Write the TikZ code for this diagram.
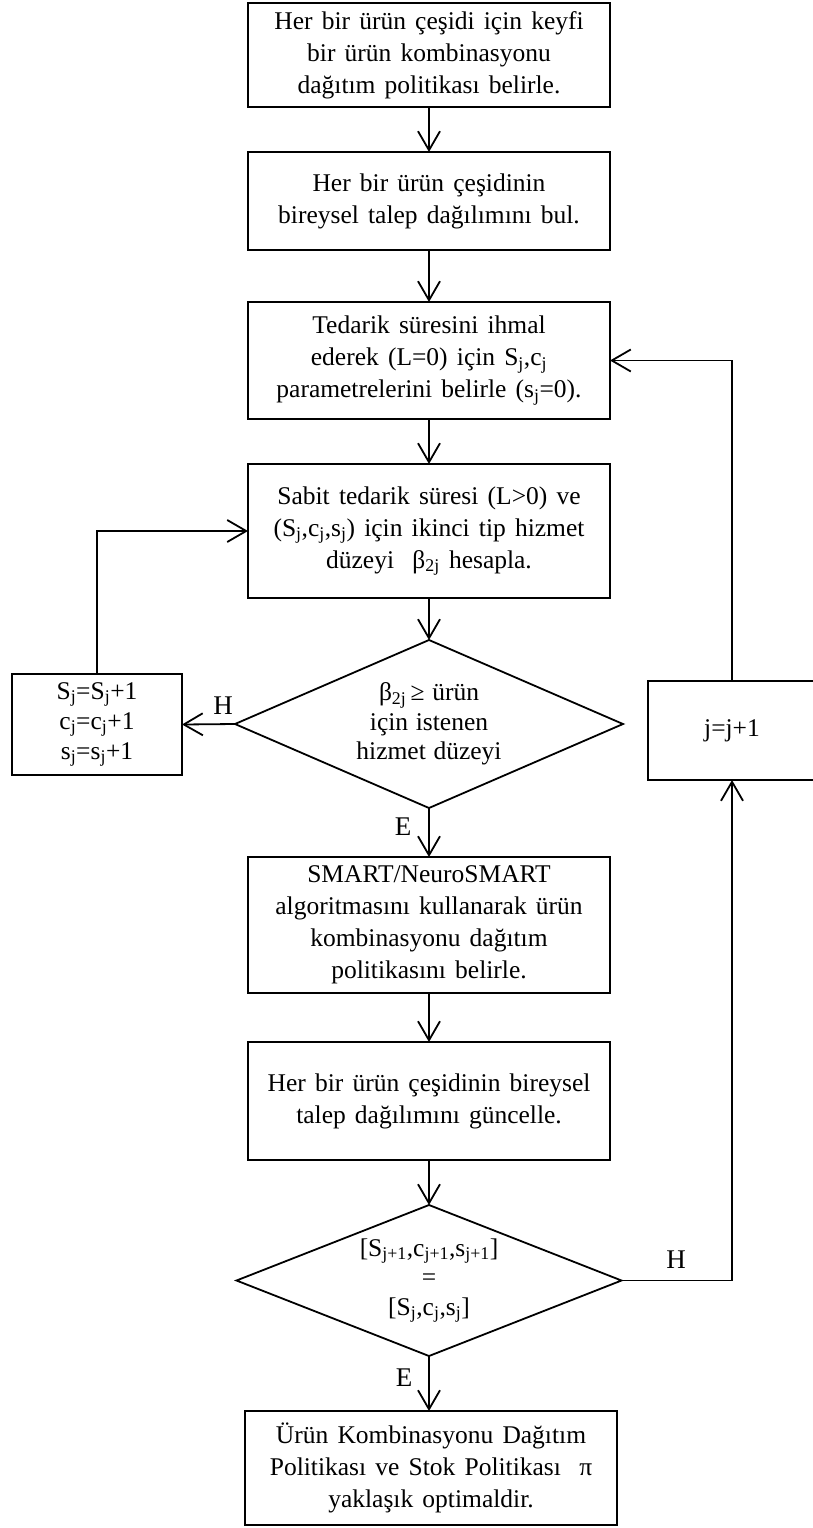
\documentclass[tikz,border=0pt]{standalone}
\usepackage{fontspec}
\setmainfont{Liberation Serif}
\usetikzlibrary{shapes.geometric,arrows.meta}
\newcommand\boxfont{\fontsize{25.5}{32}\selectfont\spaceskip=0.36em plus 0.1em minus 0.05em\relax}
\newcommand\decfont{\fontsize{25.5}{29.5}\selectfont\spaceskip=0.3em plus 0.1em minus 0.05em\relax}
\begin{document}
\begin{tikzpicture}[x=1pt,y=-1pt,
  every node/.style={inner sep=0pt, outer sep=0pt},
  box/.style={draw, line width=1.8pt, minimum width=362pt, align=center,
    font=\boxfont},
  smallbox/.style={draw, line width=1.8pt, align=center,
    font=\fontsize{25.5}{30}\selectfont},
  decision/.style={draw, line width=1.8pt, shape=diamond, aspect=2.4, align=center,
    font=\decfont},
  lbl/.style={font=\fontsize{27}{30}\selectfont},
  arr/.style={line width=1.8pt, -{Straight Barb[length=19pt,width=22pt,line width=1.8pt]}}
]
\useasboundingbox (0,0) rectangle (812,1528);

\node[box, minimum height=104pt] (b1) at (429,55)
  {Her bir ürün çeşidi için keyfi\\bir ürün kombinasyonu\\dağıtım politikası belirle.};
\node[box, minimum height=98pt] (b2) at (429,201)
  {Her bir ürün çeşidinin\\bireysel talep dağılımını bul.};
\node[box, minimum height=117pt] (b3) at (429,360.5)
  {Tedarik süresini ihmal\\ederek (L=0) için S\textsubscript{j},c\textsubscript{j}\\parametrelerini belirle (s\textsubscript{j}=0).};
\node[box, minimum height=134pt] (b4) at (429,531)
  {Sabit tedarik süresi (L>0) ve\\(S\textsubscript{j},c\textsubscript{j},s\textsubscript{j}) için ikinci tip hizmet\\düzeyi~ β\textsubscript{2j} hesapla.};
\node[decision, minimum width=388pt, minimum height=168pt] (d1) at (429,724)
  {β\textsubscript{2j}\,≥ ürün\\için istenen\\hizmet düzeyi};
\node[smallbox, minimum width=170pt, minimum height=101pt] (lb) at (97,724.5)
  {S\textsubscript{j}=S\textsubscript{j}+1\\c\textsubscript{j}=c\textsubscript{j}+1\\s\textsubscript{j}=s\textsubscript{j}+1};
\node[smallbox, minimum width=168pt, minimum height=99pt] (jb) at (732,730.5) {j=j+1};
\node[box, minimum height=136pt] (b5) at (429,925)
  {SMART/NeuroSMART\\algoritmasını kullanarak ürün\\kombinasyonu dağıtım\\politikasını belirle.};
\node[box, minimum height=118pt] (b6) at (429,1101)
  {Her bir ürün çeşidinin bireysel\\talep dağılımını güncelle.};
\node[decision, minimum width=385pt, minimum height=151pt] (d2) at (429,1280.5)
  {{[}S\textsubscript{j+1},c\textsubscript{j+1},s\textsubscript{j+1}{]}\\{}={}\\{}{[}S\textsubscript{j},c\textsubscript{j},s\textsubscript{j}{]}};
\node[box, minimum width=372pt, minimum height=114pt] (b7) at (431,1468)
  {Ürün Kombinasyonu Dağıtım\\Politikası ve Stok Politikası~ π\\yaklaşık optimaldir.};

\draw[arr] (b1) -- (b2);
\draw[arr] (b2) -- (b3);
\draw[arr] (b3) -- (b4);
\draw[arr] (b4) -- (d1);
\draw[arr] (d1) -- (b5);
\draw[arr] (b5) -- (b6);
\draw[arr] (b6) -- (d2);
\draw[arr] (d2.south) -- (d2.south |- b7.north);
\draw[arr] (d1.west) -- (lb.east);
\draw[arr] (lb.north) |- (b4.west);
\draw[arr] (d2.east) -| (jb.south);
\draw[arr] (jb.north) |- (b3.east);

\node[lbl] (h1) at (223,706) {H};
\node[lbl] (e1) at (403,827) {E};
\node[lbl] (e2) at (404,1378) {E};
\node[lbl] (h2) at (676,1260) {H};
\end{tikzpicture}
\end{document}
